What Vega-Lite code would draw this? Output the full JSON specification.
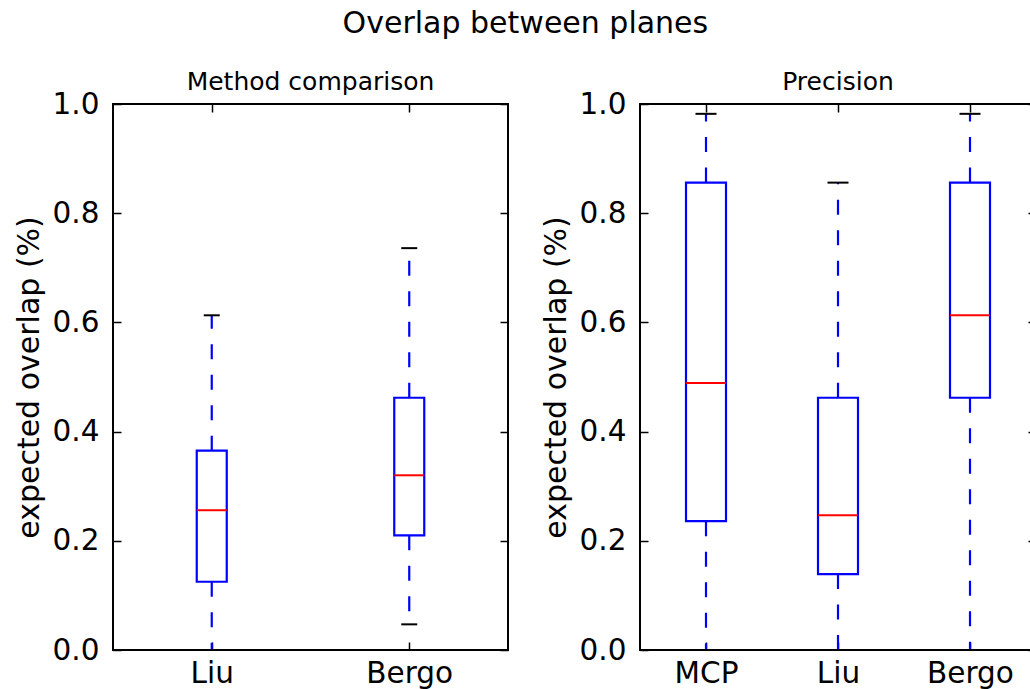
{
  "$schema": "https://vega.github.io/schema/vega-lite/v6.json",
  "padding": {"left": 13, "top": 9, "right": 0, "bottom": 0},
  "background": "white",
  "title": {
    "text": "Overlap between planes",
    "font": "DejaVu Sans",
    "fontSize": 30,
    "fontWeight": "normal",
    "color": "black",
    "anchor": "middle",
    "dx": 0,
    "offset": 30
  },
  "bounds": "flush",
  "spacing": 132,
  "datasets": {
    "comparison": [
      {"method": "Liu", "lo": 0.0, "q1": 0.125, "median": 0.256, "q3": 0.365, "hi": 0.613},
      {"method": "Bergo", "lo": 0.047, "q1": 0.21, "median": 0.32, "q3": 0.462, "hi": 0.736}
    ],
    "precision": [
      {"method": "MCP", "lo": 0.0, "q1": 0.236, "median": 0.489, "q3": 0.856, "hi": 0.982},
      {"method": "Liu", "lo": 0.0, "q1": 0.139, "median": 0.247, "q3": 0.462, "hi": 0.856},
      {"method": "Bergo", "lo": 0.0, "q1": 0.462, "median": 0.613, "q3": 0.856, "hi": 0.982}
    ]
  },
  "hconcat": [
    {
      "width": 395,
      "height": 546,
      "title": {"text": "Method comparison", "fontSize": 25, "fontWeight": "normal", "offset": -6},
      "data": {"name": "comparison"},
      "layer": [
        {
          "mark": {"type": "rule", "color": "#0000ff", "strokeWidth": 2.2, "strokeDash": [15, 15.5]},
          "encoding": {
            "x": {
              "field": "method",
              "type": "nominal",
              "sort": ["Liu", "Bergo"],
              "scale": {"type": "point", "padding": 0.5},
              "axis": {"orient": "bottom", "title": null, "labelAngle": 0, "labelPadding": 17}
            },
            "y": {
              "field": "q1",
              "type": "quantitative",
              "scale": {"domain": [0, 1], "nice": false},
              "axis": {"orient": "left", "title": "expected overlap (%)", "values": [0, 0.2, 0.4, 0.6, 0.8, 1.0], "format": ".1f"}
            },
            "y2": {"field": "lo"}
          }
        },
        {
          "mark": {"type": "rule", "color": "#0000ff", "strokeWidth": 2.2, "strokeDash": [15, 15.5]},
          "encoding": {
            "x": {
              "field": "method",
              "type": "nominal",
              "sort": ["Liu", "Bergo"],
              "axis": {"orient": "top", "title": null, "labels": false, "labelPadding": 0}
            },
            "y": {
              "field": "q3",
              "type": "quantitative",
              "axis": {"orient": "right", "title": null, "labels": false, "labelPadding": 0, "values": [0, 0.2, 0.4, 0.6, 0.8, 1.0]}
            },
            "y2": {"field": "hi"}
          }
        },
        {
          "mark": {"type": "bar", "size": 30, "fill": "white", "stroke": "#0000ff", "strokeWidth": 2.2},
          "encoding": {
            "x": {"field": "method", "type": "nominal", "sort": ["Liu", "Bergo"], "axis": null},
            "y": {"field": "q1", "type": "quantitative", "axis": null},
            "y2": {"field": "q3"}
          }
        },
        {
          "mark": {"type": "tick", "size": 16, "thickness": 2, "color": "black", "opacity": 1},
          "encoding": {
            "x": {"field": "method", "type": "nominal", "sort": ["Liu", "Bergo"], "axis": null},
            "y": {"field": "hi", "type": "quantitative", "axis": null}
          }
        },
        {
          "mark": {"type": "tick", "size": 16, "thickness": 2, "color": "black", "opacity": 1},
          "encoding": {
            "x": {"field": "method", "type": "nominal", "sort": ["Liu", "Bergo"], "axis": null},
            "y": {"field": "lo", "type": "quantitative", "axis": null}
          }
        },
        {
          "mark": {"type": "tick", "size": 30, "thickness": 2, "color": "#ff0000", "opacity": 1},
          "encoding": {
            "x": {"field": "method", "type": "nominal", "sort": ["Liu", "Bergo"], "axis": null},
            "y": {"field": "median", "type": "quantitative", "axis": null}
          }
        }
      ]
    },
    {
      "width": 396,
      "height": 546,
      "title": {"text": "Precision", "fontSize": 25, "fontWeight": "normal", "offset": -6},
      "data": {"name": "precision"},
      "layer": [
        {
          "mark": {"type": "rule", "color": "#0000ff", "strokeWidth": 2.2, "strokeDash": [15, 15.5]},
          "encoding": {
            "x": {
              "field": "method",
              "type": "nominal",
              "sort": ["MCP", "Liu", "Bergo"],
              "scale": {"type": "point", "padding": 0.5},
              "axis": {"orient": "bottom", "title": null, "labelAngle": 0, "labelPadding": 17}
            },
            "y": {
              "field": "q1",
              "type": "quantitative",
              "scale": {"domain": [0, 1], "nice": false},
              "axis": {"orient": "left", "title": "expected overlap (%)", "values": [0, 0.2, 0.4, 0.6, 0.8, 1.0], "format": ".1f"}
            },
            "y2": {"field": "lo"}
          }
        },
        {
          "mark": {"type": "rule", "color": "#0000ff", "strokeWidth": 2.2, "strokeDash": [15, 15.5]},
          "encoding": {
            "x": {
              "field": "method",
              "type": "nominal",
              "sort": ["MCP", "Liu", "Bergo"],
              "axis": {"orient": "top", "title": null, "labels": false, "labelPadding": 0}
            },
            "y": {
              "field": "q3",
              "type": "quantitative",
              "axis": {"orient": "right", "title": null, "labels": false, "labelPadding": 0, "values": [0, 0.2, 0.4, 0.6, 0.8, 1.0]}
            },
            "y2": {"field": "hi"}
          }
        },
        {
          "mark": {"type": "bar", "size": 40, "fill": "white", "stroke": "#0000ff", "strokeWidth": 2.2},
          "encoding": {
            "x": {"field": "method", "type": "nominal", "sort": ["MCP", "Liu", "Bergo"], "axis": null},
            "y": {"field": "q1", "type": "quantitative", "axis": null},
            "y2": {"field": "q3"}
          }
        },
        {
          "mark": {"type": "tick", "size": 21, "thickness": 2, "color": "black", "opacity": 1},
          "encoding": {
            "x": {"field": "method", "type": "nominal", "sort": ["MCP", "Liu", "Bergo"], "axis": null},
            "y": {"field": "hi", "type": "quantitative", "axis": null}
          }
        },
        {
          "mark": {"type": "tick", "size": 21, "thickness": 2, "color": "black", "opacity": 1},
          "encoding": {
            "x": {"field": "method", "type": "nominal", "sort": ["MCP", "Liu", "Bergo"], "axis": null},
            "y": {"field": "lo", "type": "quantitative", "axis": null}
          }
        },
        {
          "mark": {"type": "tick", "size": 40, "thickness": 2, "color": "#ff0000", "opacity": 1},
          "encoding": {
            "x": {"field": "method", "type": "nominal", "sort": ["MCP", "Liu", "Bergo"], "axis": null},
            "y": {"field": "median", "type": "quantitative", "axis": null}
          }
        }
      ]
    }
  ],
  "config": {
    "font": "DejaVu Sans",
    "view": {"stroke": "black", "strokeWidth": 2},
    "title": {"color": "black", "font": "DejaVu Sans"},
    "axis": {
      "domain": false,
      "grid": false,
      "ticks": true,
      "tickSize": -8,
      "tickWidth": 1.5,
      "tickColor": "black",
      "labelFont": "DejaVu Sans",
      "labelFontSize": 29.5,
      "labelFontWeight": "normal",
      "labelColor": "black",
      "labelPadding": 22,
      "titleFont": "DejaVu Sans",
      "titleFontSize": 30,
      "titleFontWeight": "normal",
      "titleColor": "black",
      "titlePadding": 8
    }
  }
}
